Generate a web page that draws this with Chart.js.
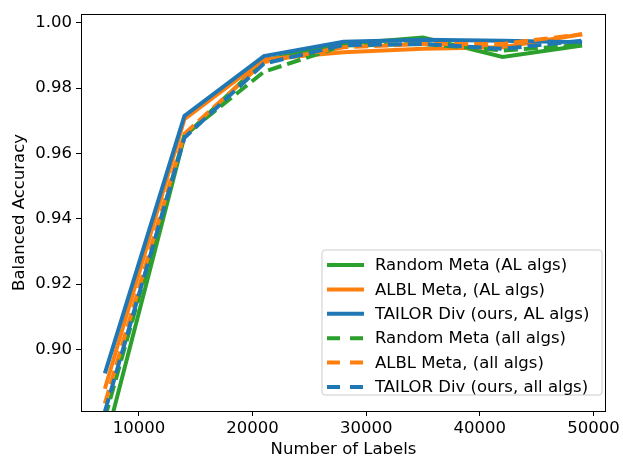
<!DOCTYPE html>
<html>
<head>
<meta charset="utf-8">
<script src="https://cdn.jsdelivr.net/npm/chart.js@4/dist/chart.umd.min.js"></script>
<style>
  html, body { margin: 0; padding: 0; background: #fff; }
  #wrap { width: 623px; height: 462px; }
</style>
</head>
<body>
<div id="wrap"><canvas id="chart"></canvas></div>
<script>
const labelCounts = [7000, 14000, 21000, 28000, 35000, 42000, 49000];
const randomMetaAL = [0.871, 0.9652, 0.9885, 0.9935, 0.9955, 0.9895, 0.9930];
const albMetaAL = [0.888, 0.9705, 0.9888, 0.9910, 0.9920, 0.9925, 0.9965];
const tailorDivAL = [0.8927, 0.9715, 0.9898, 0.9942, 0.9948, 0.9945, 0.9940];
const randomMetaAll = [0.879, 0.9655, 0.9850, 0.9930, 0.9935, 0.9915, 0.9932];
const albMetaAll = [0.8835, 0.9660, 0.9880, 0.9925, 0.9935, 0.9935, 0.9965];
const tailorDivAll = [0.881, 0.9648, 0.9875, 0.9932, 0.9935, 0.9920, 0.9945];
const xTicks = [10000, 20000, 30000, 40000, 50000];
const yTicks = [0.90, 0.92, 0.94, 0.96, 0.98, 1.00];

const green = '#2ca02c', orange = '#ff7f0e', blue = '#1f77b4';
const font = "'DejaVu Sans', sans-serif";
const fontSize = 16.5;
const dash = [14, 6];

function series(label, values, color, dashed, order) {
    return {
        label: label,
        data: labelCounts.map((x, i) => ({ x: x, y: values[i] })),
        borderColor: color,
        backgroundColor: color,
        borderWidth: 4,
        borderDash: dashed ? dash : [],
        borderCapStyle: 'butt',
        pointRadius: 0,
        tension: 0,
        clip: 0,
        order: order
    };
}

const frameAndLegend = {
    id: 'frameAndLegend',
    afterDatasetsDraw(chart) {
        const ctx = chart.ctx;
        const a = chart.chartArea;
        ctx.save();
        ctx.strokeStyle = '#000';
        ctx.lineWidth = 1;
        ctx.strokeRect(Math.round(a.left) + 0.5, Math.round(a.top) + 0.5,
            Math.round(a.right - a.left) - 1, Math.round(a.bottom - a.top));

        // legend box, lower right like matplotlib "best"
        const bx = 322, by = 250, bw = 280, bh = 145, r = 3;
        ctx.beginPath();
        ctx.moveTo(bx + r, by);
        ctx.arcTo(bx + bw, by, bx + bw, by + bh, r);
        ctx.arcTo(bx + bw, by + bh, bx, by + bh, r);
        ctx.arcTo(bx, by + bh, bx, by, r);
        ctx.arcTo(bx, by, bx + bw, by, r);
        ctx.closePath();
        ctx.fillStyle = 'rgba(255,255,255,0.8)';
        ctx.fill();
        ctx.strokeStyle = '#cccccc';
        ctx.stroke();

        ctx.font = fontSize + 'px ' + font;
        ctx.textBaseline = 'middle';
        chart.data.datasets.forEach((ds, i) => {
            const y = 265 + i * 24.4;
            ctx.beginPath();
            ctx.setLineDash(ds.borderDash.length ? [13, 10] : []);
            ctx.lineWidth = 4;
            ctx.strokeStyle = ds.borderColor;
            ctx.moveTo(327, y);
            ctx.lineTo(364, y);
            ctx.stroke();
            ctx.setLineDash([]);
            ctx.fillStyle = '#000';
            ctx.fillText(ds.label, 375, y + 1);
        });
        ctx.restore();
    }
};

new Chart(document.getElementById('chart'), {
    type: 'line',
    data: {
        datasets: [
            series('Random Meta (AL algs)', randomMetaAL, green, false, 6),
            series('ALBL Meta, (AL algs)', albMetaAL, orange, false, 5),
            series('TAILOR Div (ours, AL algs)', tailorDivAL, blue, false, 4),
            series('Random Meta (all algs)', randomMetaAll, green, true, 3),
            series('ALBL Meta, (all algs)', albMetaAll, orange, true, 2),
            series('TAILOR Div (ours, all algs)', tailorDivAll, blue, true, 1)
        ]
    },
    options: {
        responsive: true,
        maintainAspectRatio: false,
        animation: false,
        layout: { padding: { left: 0, right: 11, top: 11, bottom: 0 } },
        plugins: {
            legend: { display: false },
            tooltip: { enabled: false }
        },
        scales: {
            x: {
                type: 'linear',
                min: 4900,
                max: 51100,
                afterBuildTicks: s => { s.ticks = xTicks.map(v => ({ value: v })); },
                afterFit: s => { s.height = 51; },
                grid: { drawOnChartArea: false, drawTicks: true, tickLength: 5, color: '#000', tickWidth: 1 },
                border: { display: false },
                ticks: {
                    color: '#000',
                    font: { family: font, size: fontSize },
                    padding: 3,
                    maxRotation: 0,
                    callback: v => String(v)
                },
                title: {
                    display: true,
                    text: 'Number of Labels',
                    color: '#000',
                    font: { family: font, size: fontSize },
                    padding: { top: 0, bottom: 2 }
                }
            },
            y: {
                type: 'linear',
                min: 0.8812,
                max: 1.0027,
                afterBuildTicks: s => { s.ticks = yTicks.map(v => ({ value: v })); },
                afterFit: s => { s.width = 81; },
                grid: { drawOnChartArea: false, drawTicks: true, tickLength: 5, color: '#000', tickWidth: 1 },
                border: { display: false },
                ticks: {
                    color: '#000',
                    font: { family: font, size: fontSize },
                    padding: 4,
                    callback: v => v.toFixed(2)
                },
                title: {
                    display: true,
                    text: 'Balanced Accuracy',
                    color: '#000',
                    font: { family: font, size: fontSize },
                    padding: { top: 10, bottom: 0 }
                }
            }
        }
    },
    plugins: [frameAndLegend]
});
</script>
</body>
</html>
